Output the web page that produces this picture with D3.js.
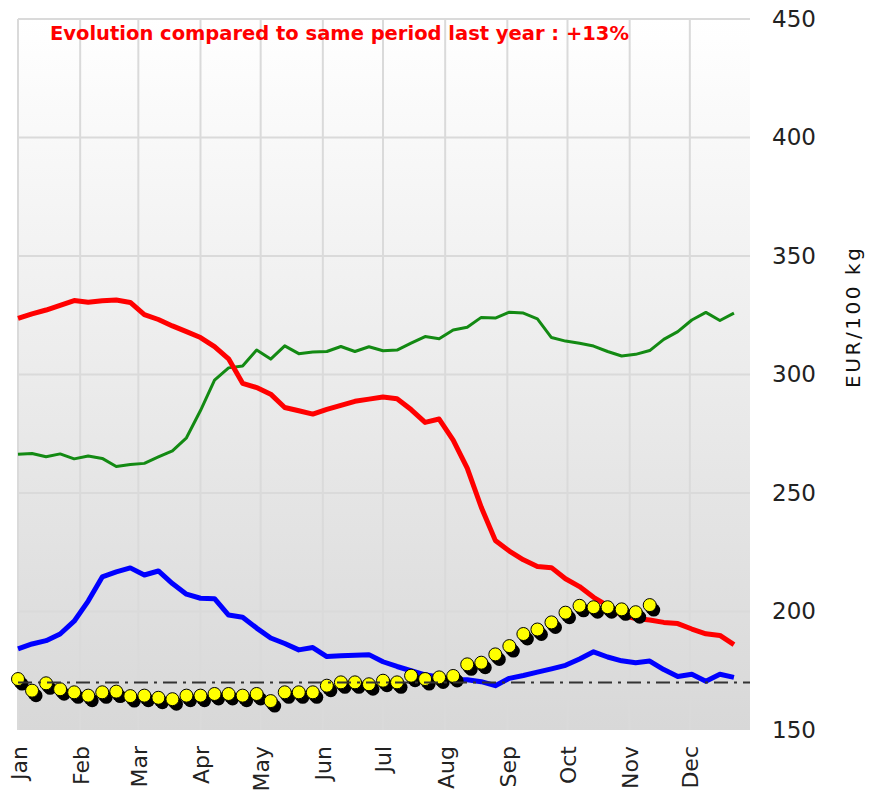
<!DOCTYPE html>
<html>
<head>
<meta charset="utf-8">
<script src="https://cdn.jsdelivr.net/npm/d3@7"></script>
<style>
  body { margin: 0; background: #fff; }
  svg { display: block; }
</style>
</head>
<body>
<div id="chart"></div>
<script>
// weekly prices, EUR/100 kg
const redSeries = [323.7, 325.6, 327.2, 329.2, 331.2, 330.5, 331.1, 331.4, 330.4, 325.3,
  323.2, 320.5, 318.1, 315.6, 311.8, 306.6, 296.3, 294.5, 291.7, 286.1,
  284.7, 283.3, 285.3, 287.0, 288.7, 289.6, 290.5, 289.8, 285.2, 279.8,
  281.2, 272.3, 260.5, 244.0, 230.0, 225.5, 221.8, 219.0, 218.5, 213.8,
  210.5, 206.0, 202.5, 198.5, 197.0, 196.4, 195.4, 194.9, 192.6, 190.6,
  189.9, 186.0];

const greenSeries = [266.3, 266.7, 265.3, 266.5, 264.4, 265.6, 264.6, 261.2, 262.0, 262.5,
  265.2, 267.8, 273.3, 284.8, 297.6, 302.8, 303.6, 310.3, 306.5, 312.1,
  308.8, 309.5, 309.7, 311.8, 309.7, 311.7, 310.0, 310.3, 313.2, 316.0,
  315.1, 318.8, 319.9, 324.1, 323.8, 326.3, 325.9, 323.5, 315.6, 314.1,
  313.2, 312.0, 309.7, 307.8, 308.5, 310.1, 314.8, 318.1, 323.0, 326.2,
  322.8, 325.9];

const blueSeries = [184.2, 186.3, 187.7, 190.5, 195.9, 204.4, 214.6, 216.7, 218.4, 215.4,
  217.1, 211.8, 207.3, 205.6, 205.4, 198.5, 197.6, 193.0, 188.8, 186.5,
  183.8, 184.8, 181.0, 181.3, 181.5, 181.8, 178.8, 176.8, 175.0, 173.3,
  172.3, 171.3, 171.2, 170.4, 168.7, 171.8, 173.0, 174.4, 175.8, 177.3,
  180.0, 183.0, 180.8, 179.2, 178.4, 179.1, 175.5, 172.6, 173.5, 170.6,
  173.5, 172.2];

// current year (yellow dots)
const currentSeries = [171.5, 166.6, 169.7, 167.2, 165.9, 164.5, 165.9, 166.2, 164.3, 164.5,
  163.6, 163.0, 164.5, 164.5, 165.2, 165.2, 164.5, 165.2, 162.2, 165.9,
  165.9, 165.9, 168.7, 170.1, 170.1, 169.3, 170.8, 170.1, 172.9, 171.5,
  172.2, 172.8, 177.7, 178.4, 181.9, 185.4, 190.5, 192.4, 195.4, 199.5,
  202.4, 201.8, 201.8, 200.9, 199.7, 202.7];

const refLevel = 170;
const months = ["Jan", "Feb", "Mar", "Apr", "May", "Jun", "Jul", "Aug", "Sep", "Oct", "Nov", "Dec"];
const yTicks = [150, 200, 250, 300, 350, 400, 450];
const titleText = "Evolution compared to same period last year : +13%";
const yLabel = "EUR/100 kg";

const width = 869, height = 793;
const plot = {left: 18, top: 19, right: 750, bottom: 730};

const yearStart = new Date(2024, 0, 1), yearEnd = new Date(2025, 0, 1);
const weekDate = i => d3.timeDay.offset(yearStart, 7 * i);

let x = d3.scaleTime()
    .domain([yearStart, yearEnd])
    .range([plot.left, 752]);

let y = d3.scaleLinear()
    .domain([150, 450])
    .range([plot.bottom, plot.top]);

let svg = d3.select("#chart")
    .append("svg")
    .attr("width", width)
    .attr("height", height);

// background gradient
let grad = svg.append("defs").append("linearGradient")
    .attr("id", "bg").attr("x1", 0).attr("y1", 0).attr("x2", 0).attr("y2", 1);
grad.append("stop").attr("offset", "0%").attr("stop-color", "#ffffff");
grad.append("stop").attr("offset", "100%").attr("stop-color", "#d8d8d8");

svg.append("rect")
    .attr("x", plot.left).attr("y", plot.top)
    .attr("width", plot.right - plot.left)
    .attr("height", plot.bottom - plot.top)
    .attr("fill", "url(#bg)");

// grid
let monthDates = d3.range(12).map(m => new Date(2024, m, 1));

svg.append("g").selectAll("line").data(monthDates).enter()
    .append("line")
    .attr("x1", d => x(d)).attr("x2", d => x(d))
    .attr("y1", plot.top).attr("y2", plot.bottom)
    .attr("stroke", "#dadada").attr("stroke-width", 2);

svg.append("g").selectAll("line").data(yTicks.slice(1)).enter()
    .append("line")
    .attr("x1", plot.left).attr("x2", plot.right)
    .attr("y1", d => y(d)).attr("y2", d => y(d))
    .attr("stroke", "#dadada").attr("stroke-width", 2);

// lines
let line = d3.line()
    .x((d, i) => x(weekDate(i)))
    .y(d => y(d));

svg.append("path").datum(greenSeries)
    .attr("fill", "none").attr("stroke", "#138a13").attr("stroke-width", 3)
    .attr("stroke-linejoin", "round")
    .attr("d", line);

svg.append("path").datum(redSeries)
    .attr("fill", "none").attr("stroke", "#ff0000").attr("stroke-width", 5)
    .attr("stroke-linejoin", "round")
    .attr("d", line);

svg.append("path").datum(blueSeries)
    .attr("fill", "none").attr("stroke", "#0000ff").attr("stroke-width", 5)
    .attr("stroke-linejoin", "round")
    .attr("d", line);

// current year dots with shadow
let shadows = svg.append("g");
[[2, 3], [4, 5]].forEach(function(off) {
    shadows.selectAll(null).data(currentSeries).enter()
        .append("circle")
        .attr("cx", (d, i) => x(weekDate(i)) + off[0])
        .attr("cy", d => y(d) + off[1])
        .attr("r", 6.5)
        .attr("fill", "#000");
});

svg.append("g").selectAll("circle").data(currentSeries).enter()
    .append("circle")
    .attr("cx", (d, i) => x(weekDate(i)))
    .attr("cy", d => y(d))
    .attr("r", 6.5)
    .attr("fill", "#ffff00")
    .attr("stroke", "#000")
    .attr("stroke-width", 1);

// reference level
svg.append("line")
    .attr("x1", plot.left).attr("x2", plot.right)
    .attr("y1", y(refLevel)).attr("y2", y(refLevel))
    .attr("stroke", "#333").attr("stroke-width", 2)
    .attr("stroke-dasharray", "14,6,3,6");

// y axis on the right
let yAxis = svg.append("g")
    .attr("transform", `translate(${plot.right}, 0)`)
    .call(d3.axisRight(y).tickValues(yTicks).tickSize(0).tickPadding(22));
yAxis.select(".domain").remove();
yAxis.selectAll("text")
    .style("font-family", "DejaVu Sans")
    .style("font-size", "23px")
    .attr("fill", "#222");

// month labels
svg.append("g").selectAll("text").data(monthDates).enter()
    .append("text")
    .attr("transform", d => `translate(${x(d) + 1}, 746) rotate(-90)`)
    .attr("text-anchor", "end")
    .attr("dominant-baseline", "central")
    .style("font-family", "DejaVu Sans")
    .style("font-size", "22px")
    .attr("fill", "#222")
    .text((d, i) => months[i]);

// axis title
svg.append("text")
    .attr("transform", "translate(853, 318) rotate(-90)")
    .attr("text-anchor", "middle")
    .attr("dominant-baseline", "central")
    .attr("textLength", 140)
    .attr("lengthAdjust", "spacing")
    .style("font-family", "DejaVu Sans")
    .style("font-size", "20px")
    .attr("fill", "#111")
    .text(yLabel);

// title
svg.append("text")
    .attr("x", 50).attr("y", 40)
    .style("font-family", "DejaVu Sans")
    .style("font-weight", "bold")
    .style("font-size", "19.5px")
    .attr("fill", "#ff0000")
    .text(titleText);
</script>
</body>
</html>
